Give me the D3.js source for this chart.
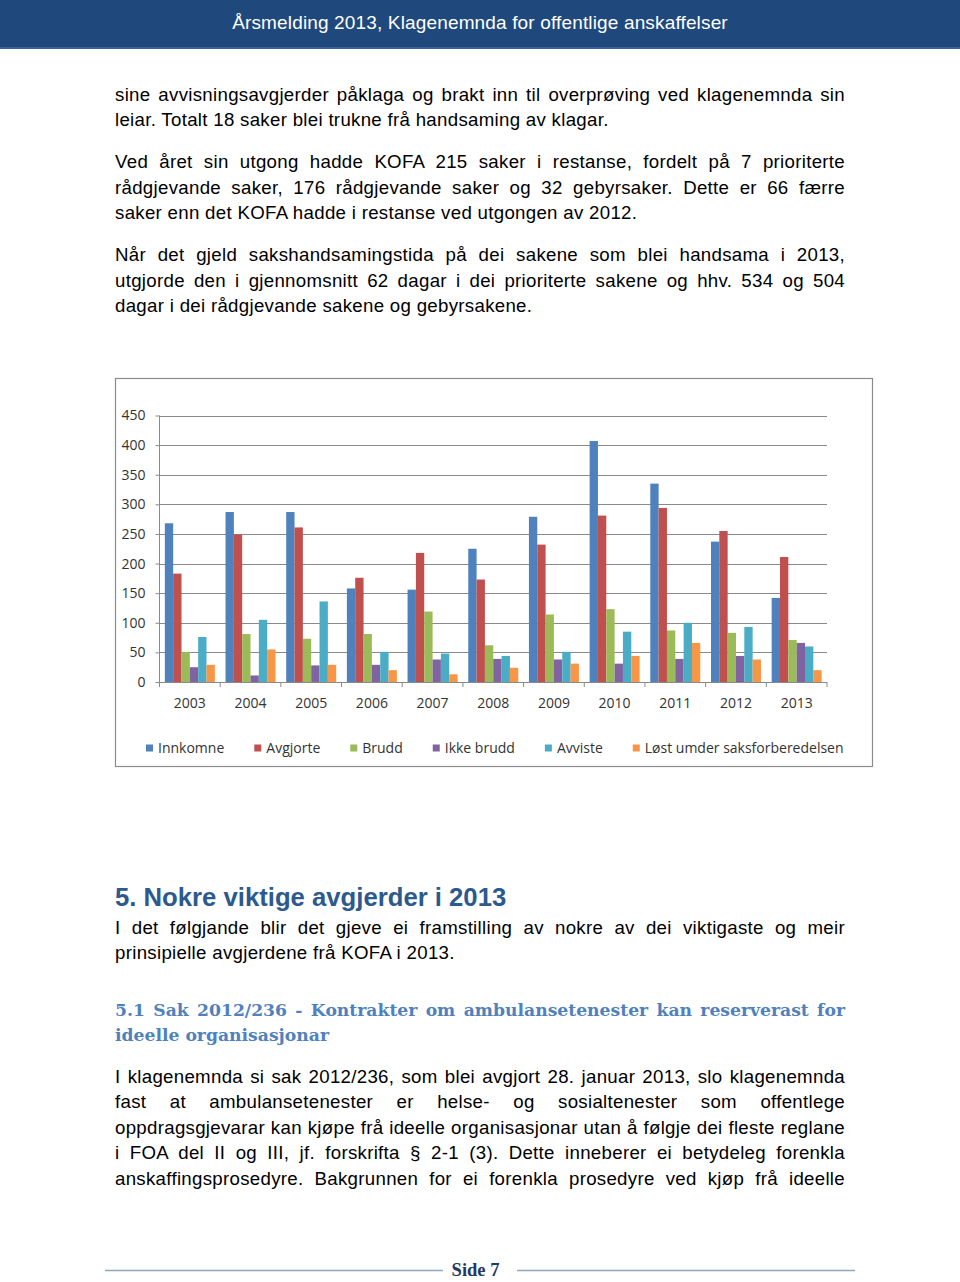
<!DOCTYPE html>
<html><head><meta charset="utf-8">
<script src="https://cdn.jsdelivr.net/npm/d3@7"></script>
<style>
body{margin:0;width:960px;height:1282px;position:relative;background:#fff;overflow:hidden;font-family:"Liberation Sans",Arial,sans-serif;}
.hdr{position:absolute;left:0;top:0;width:960px;height:47px;background:#1F497D;border-bottom:2px solid #3c6193;color:#fff;font-size:19px;letter-spacing:0.15px;text-align:center;line-height:46px;}
.ln{position:absolute;left:115px;font-size:18.67px;letter-spacing:0.3px;color:#000;white-space:nowrap;height:26px;line-height:26px;}
.h1{position:absolute;left:115px;font-size:25.7px;font-weight:bold;color:#2D5A8E;white-space:nowrap;line-height:30px;}
.h2{position:absolute;left:115px;font-family:"DejaVu Serif","Liberation Serif",serif;font-weight:bold;font-size:17.2px;color:#4F81BD;white-space:nowrap;line-height:26px;}
.foot{position:absolute;left:0;top:1260px;width:951px;text-align:center;font-family:"Liberation Serif",serif;font-weight:bold;font-size:18.5px;color:#1F3864;}
#chart{position:absolute;left:0;top:0;}
</style></head><body>
<div class="hdr">Årsmelding 2013, Klagenemnda for offentlige anskaffelser</div>
<div id="text"></div>
<svg id="chart" width="960" height="1282"></svg>
<script>
const years = ["2003","2004","2005","2006","2007","2008","2009","2010","2011","2012","2013"];
const seriesNames = ["Innkomne","Avgjorte","Brudd","Ikke brudd","Avviste","Løst umder saksforberedelsen"];
const innkomne  = [268,287,287,158,156,225,279,407,335,237,142];
const avgjorte  = [183,249,261,176,218,173,232,281,294,255,211];
const brudd     = [51,81,73,81,119,62,114,123,87,83,71];
const ikkeBrudd = [25,11,28,29,38,39,38,31,39,44,66];
const avviste   = [76,105,136,51,48,44,51,85,100,93,60];
const lost      = [29,55,29,20,13,24,31,44,66,38,20];
const yTicks = [0,50,100,150,200,250,300,350,400,450];
const colors = ["#4F81BD","#C0504D","#9BBB59","#8064A2","#4BACC6","#F79646"];

const textLines = [
 {t:"sine avvisningsavgjerder påklaga og brakt inn til overprøving ved klagenemnda sin", y:95, j:true},
 {t:"leiar. Totalt 18 saker blei trukne frå handsaming av klagar.", y:120},
 {t:"Ved året sin utgong hadde KOFA 215 saker i restanse, fordelt på 7 prioriterte", y:162, j:true},
 {t:"rådgjevande saker, 176 rådgjevande saker og 32 gebyrsaker. Dette er 66 færre", y:188, j:true},
 {t:"saker enn det KOFA hadde i restanse ved utgongen av 2012.", y:213},
 {t:"Når det gjeld sakshandsamingstida på dei sakene som blei handsama i 2013,", y:255, j:true},
 {t:"utgjorde den i gjennomsnitt 62 dagar i dei prioriterte sakene og hhv. 534 og 504", y:281, j:true},
 {t:"dagar i dei rådgjevande sakene og gebyrsakene.", y:306},
 {t:"I det følgjande blir det gjeve ei framstilling av nokre av dei viktigaste og meir", y:928, j:true},
 {t:"prinsipielle avgjerdene frå KOFA i 2013.", y:953},
 {t:"I klagenemnda si sak 2012/236, som blei avgjort 28. januar 2013, slo klagenemnda", y:1077, j:true},
 {t:"fast at ambulansetenester er helse- og sosialtenester som offentlege", y:1102, j:true},
 {t:"oppdragsgjevarar kan kjøpe frå ideelle organisasjonar utan å følgje dei fleste reglane", y:1128, j:true},
 {t:"i FOA del II og III, jf. forskrifta § 2-1 (3). Dette inneberer ei betydeleg forenkla", y:1153, j:true},
 {t:"anskaffingsprosedyre. Bakgrunnen for ei forenkla prosedyre ved kjøp frå ideelle", y:1179, j:true}
];
const heading1 = "5. Nokre viktige avgjerder i 2013";
const heading2 = ["5.1 Sak 2012/236 - Kontrakter om ambulansetenester kan reserverast for","ideelle organisasjonar"];

(function(){
const W = 730;
function justify(div){
  const el = div.node();
  const n = (el.textContent.match(/ /g)||[]).length;
  const w = el.getBoundingClientRect().width;
  if(n>0) div.style("word-spacing", ((W - w)/n) + "px");
}
const tx = d3.select("#text");
textLines.forEach(l=>{
  const d = tx.append("div").attr("class","ln").style("top",(l.y-13)+"px").text(l.t);
  if(l.j) justify(d);
});
tx.append("div").attr("class","h1").style("top",(897-15)+"px").text(heading1);
justify(tx.append("div").attr("class","h2").style("top",(1010-13)+"px").text(heading2[0]));
tx.append("div").attr("class","h2").style("top",(1035-13)+"px").text(heading2[1]);
tx.append("div").attr("class","foot").text("Side 7");

const svg = d3.select("#chart");
svg.append("line").attr("x1",105).attr("x2",443).attr("y1",1270.5).attr("y2",1270.5).attr("stroke","#8EA9BF").attr("stroke-width",1.5);
svg.append("line").attr("x1",517).attr("x2",855).attr("y1",1270.5).attr("y2",1270.5).attr("stroke","#8EA9BF").attr("stroke-width",1.5);

svg.append("rect").attr("x",115.5).attr("y",378.5).attr("width",757).attr("height",388)
  .attr("fill","#fff").attr("stroke","#8c8c8c").attr("stroke-width",1.2);

const pL=159.5, pR=827, pT=415.5, pB=682;
const x = d3.scaleBand().domain(years).range([pL,pR]).paddingInner(0).paddingOuter(0);
const y = d3.scaleLinear().domain([0,450]).range([pB,pT]);
const inner = d3.scaleBand().domain(d3.range(6)).range([0,50]);
const font = "'Open Sans','Liberation Sans',sans-serif";

const g = svg.append("g").attr("font-family",font);
g.append("g").selectAll("line").data(yTicks.slice(1)).join("line")
  .attr("x1",pL).attr("x2",pR).attr("y1",d=>Math.round(y(d))+0.5).attr("y2",d=>Math.round(y(d))+0.5)
  .attr("stroke","#8a8a8a").attr("stroke-width",1);

const all = [innkomne,avgjorte,brudd,ikkeBrudd,avviste,lost];
years.forEach((yr,i)=>{
  const x0 = x(yr) + (x.bandwidth()-50)/2;
  g.append("g").selectAll("rect").data(all.map((s,k)=>({k,v:s[i]}))).join("rect")
    .attr("x",d=>x0+inner(d.k)).attr("width",inner.bandwidth())
    .attr("y",d=>y(d.v)).attr("height",d=>y(0)-y(d.v)).attr("fill",d=>colors[d.k]);
});

const ya = g.append("g").attr("transform",`translate(${pL},0)`).call(d3.axisLeft(y).tickValues(yTicks).tickSize(4).tickPadding(10));
ya.select(".domain").attr("stroke","#8a8a8a").attr("d",`M0,${pT}V${pB}`);
ya.selectAll(".tick line").attr("stroke","#8a8a8a");
ya.selectAll(".tick text").attr("font-size",14).attr("fill","#333").attr("font-family",font);

const xa = g.append("g").attr("transform",`translate(0,${pB})`).call(d3.axisBottom(x).tickSize(0).tickPadding(16));
xa.select(".domain").attr("stroke","#8a8a8a").attr("d",`M${pL},0.5H${pR}`);
xa.selectAll(".tick text").attr("font-size",14).attr("fill","#333").attr("font-family",font);
g.append("g").selectAll("line").data(years.map(d=>x(d)).concat([pR])).join("line")
  .attr("x1",d=>d).attr("x2",d=>d).attr("y1",pB).attr("y2",pB+5).attr("stroke","#8a8a8a");

const lg = g.append("g").attr("transform","translate(146,748)");
let lx = 0;
seriesNames.forEach((n,k)=>{
  const it = lg.append("g").attr("transform",`translate(${lx},0)`);
  it.append("rect").attr("x",0).attr("y",-3.5).attr("width",7).attr("height",7).attr("fill",colors[k]);
  const t = it.append("text").attr("x",12).attr("y",5).attr("font-size",14).attr("fill","#333").text(n);
  lx += 12 + t.node().getComputedTextLength() + 30;
});
})();
</script>
</body></html>
